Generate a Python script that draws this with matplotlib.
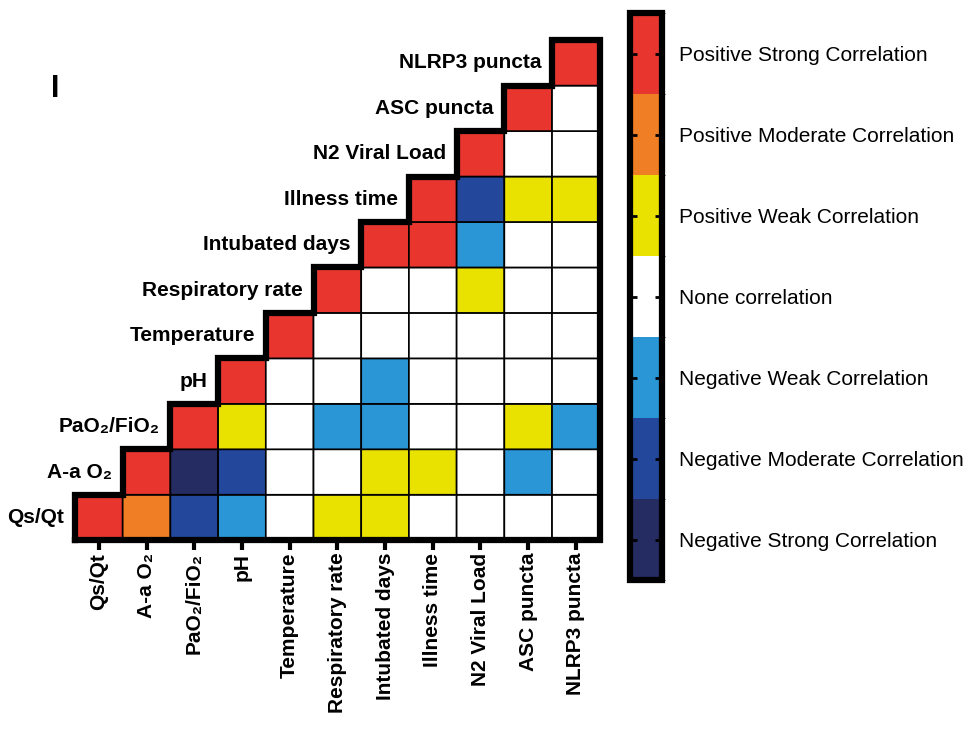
import numpy as np
import matplotlib
matplotlib.use("Agg")
import matplotlib.pyplot as plt
from matplotlib.colors import ListedColormap, BoundaryNorm

plt.rcParams['font.family'] = ['Liberation Sans', 'DejaVu Sans']

variables = ["Qs/Qt", "A-a O₂", "PaO₂/FiO₂", "pH", "Temperature", "Respiratory rate",
             "Intubated days", "Illness time", "N2 Viral Load", "ASC puncta", "NLRP3 puncta"]

# correlation class per row (row = variable, from bottom), columns from the diagonal rightwards
# -3 neg strong ... 0 none ... 3 pos strong
rows = [
    [3, 2, -2, -1, 0, 1, 1, 0, 0, 0, 0],   # Qs/Qt
    [3, -3, -2, 0, 0, 1, 1, 0, -1, 0],     # A-a O2
    [3, 1, 0, -1, -1, 0, 0, 1, -1],        # PaO2/FiO2
    [3, 0, 0, -1, 0, 0, 0, 0],             # pH
    [3, 0, 0, 0, 0, 0, 0],                 # Temperature
    [3, 0, 0, 1, 0, 0],                    # Respiratory rate
    [3, 3, -1, 0, 0],                      # Intubated days
    [3, -2, 1, 1],                         # Illness time
    [3, 0, 0],                             # N2 Viral Load
    [3, 0],                                # ASC puncta
    [3],                                   # NLRP3 puncta
]

class_labels = ["Negative Strong Correlation", "Negative Moderate Correlation",
                "Negative Weak Correlation", "None correlation", "Positive Weak Correlation",
                "Positive Moderate Correlation", "Positive Strong Correlation"]
class_colors = ["#252C62", "#23489B", "#2A96D5", "#FFFFFF", "#E9E200", "#EF7E24", "#E8362F"]

n = len(variables)
mat = np.full((n, n), np.nan)
for i, r in enumerate(rows):
    mat[i, i:i + len(r)] = r
mat = np.ma.masked_invalid(mat)

cmap = ListedColormap(class_colors)
norm = BoundaryNorm(np.arange(-3.5, 4.5, 1), cmap.N)

fig = plt.figure(figsize=(9.7, 7.3), dpi=100)
ax = fig.add_axes([0.0773, 0.260, 0.541, 0.685])

# pcolor skips masked cells, so only the triangle is drawn
mesh = ax.pcolor(np.arange(n + 1), np.arange(n + 1), mat, cmap=cmap, norm=norm,
                 edgecolors="black", linewidth=1.2)

# staircase outline
sx, sy = [0], [0]
for i in range(n):
    sx += [i, i + 1]
    sy += [i + 1, i + 1]
sx += [n, 0]
sy += [0, 0]
ax.plot(sx, sy, color="black", lw=4.5, solid_joinstyle="miter", clip_on=False, zorder=5)

for i, name in enumerate(variables):
    ax.text(i - 0.22, i + 0.5, name, ha="right", va="center", fontsize=15, fontweight="bold")

ax.set_xlim(0, n)
ax.set_ylim(0, n)
ax.set_xticks(np.arange(n) + 0.5)
ax.set_xticklabels(variables, rotation=90, fontsize=15, fontweight="bold")
ax.tick_params(axis="x", length=7, width=3, pad=2)
ax.set_yticks([])
for s in ax.spines.values():
    s.set_visible(False)

cax = fig.add_axes([0.6495, 0.205, 0.033, 0.777])
cb = fig.colorbar(mesh, cax=cax, ticks=np.arange(-3, 4))
cb.set_ticklabels(class_labels)
cb.outline.set_linewidth(4.5)
cax.yaxis.set_ticks_position("both")
cax.tick_params(direction="in", left=True, right=True, labelleft=False, labelright=True,
                length=5, width=2, labelsize=15, pad=12)

fig.text(0.053, 0.878, "I", fontsize=22, fontweight="bold", ha="left", va="center")

fig.savefig("out.png", dpi=100)
